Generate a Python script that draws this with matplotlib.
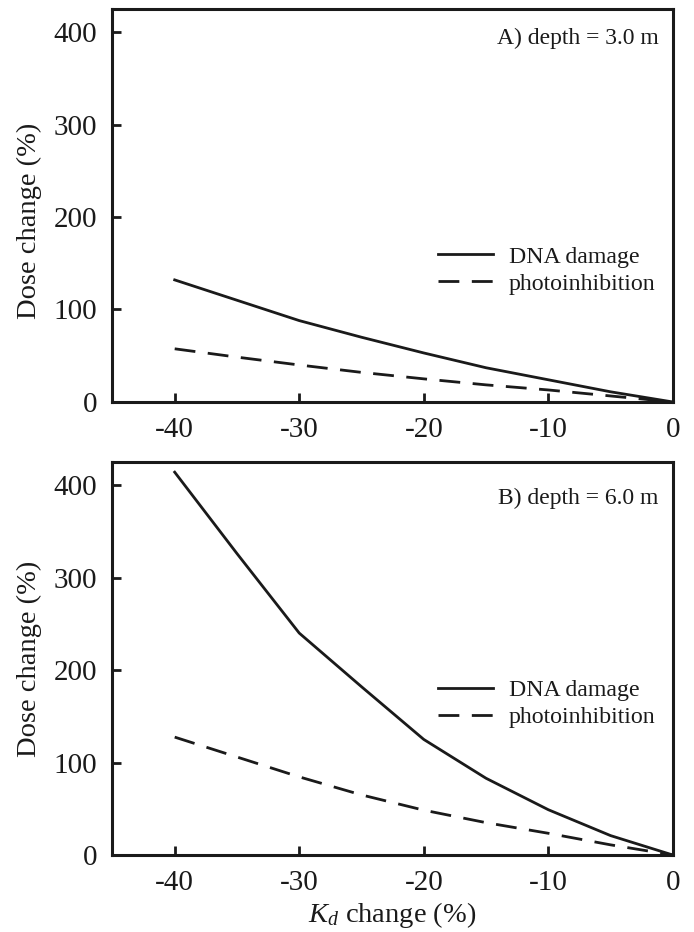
import matplotlib
matplotlib.use("Agg")
import matplotlib.pyplot as plt

plt.rcParams['font.family'] = ['Liberation Serif', 'DejaVu Serif']
plt.rcParams['mathtext.fontset'] = 'custom'
plt.rcParams['mathtext.rm'] = 'Liberation Serif'
plt.rcParams['mathtext.it'] = 'Liberation Serif:italic'
plt.rcParams['axes.unicode_minus'] = False

# Kd change (%) and dose change (%)
kd_change = [-40, -35, -30, -25, -20, -15, -10, -5, 0]
dna_3m = [132, 110, 88, 70, 53, 37, 24, 11, 0]
photo_3m = [57.5, 48.5, 40, 32, 25, 18.5, 13, 6.5, 0]
dna_6m = [414, 326, 240, 182, 125, 83, 49, 21, 0]
photo_6m = [127.5, 106, 84.5, 65, 48.5, 35, 23.5, 11, 0]

panel_titles = ["A) depth = 3.0 m", "B) depth = 6.0 m"]
series = [(dna_3m, photo_3m), (dna_6m, photo_6m)]
xticks = [-40, -30, -20, -10, 0]
yticks = [0, 100, 200, 300, 400]

fig = plt.figure(figsize=(6.94, 9.32), dpi=100)
ax_top = fig.add_axes([0.162, 0.5687, 0.8075, 0.4217])
ax_bot = fig.add_axes([0.162, 0.0826, 0.8075, 0.4217])

# (title y, legend y) in axes fraction for each panel
placements = [(0.926, 0.335), (0.908, 0.385)]

for ax, title, (dna, photo), (title_y, leg_y) in zip([ax_top, ax_bot], panel_titles,
                                                      series, placements):
    ax.plot(kd_change, dna, color='#1a1a1a', lw=2.0, label='DNA damage')
    ax.plot(kd_change, photo, color='#1a1a1a', lw=2.0, dashes=(7.5, 4.5),
            label='photoinhibition')
    ax.set_xlim(-45, 0)
    ax.set_ylim(0, 425)
    ax.set_xticks(xticks)
    ax.set_yticks(yticks)
    ax.tick_params(direction='in', length=6.5, width=2, labelsize=21, pad=11,
                   top=False, right=False, colors='#1a1a1a')
    for sp in ax.spines.values():
        sp.set_linewidth(2.2)
        sp.set_color('#1a1a1a')
    ax.set_ylabel("Dose change (%)", fontsize=20.5, color='#1a1a1a')
    ax.text(0.975, title_y, title, transform=ax.transAxes, ha='right', va='center',
            fontsize=17, color='#1a1a1a')
    leg = ax.legend(loc='center right', bbox_to_anchor=(0.995, leg_y), frameon=False,
                    fontsize=17.2, handlelength=2.3, handletextpad=0.65,
                    labelspacing=0.22, borderaxespad=0.2)
    for t in leg.get_texts():
        t.set_color('#1a1a1a')

ax_top.yaxis.set_label_coords(-0.125, 0.46)
ax_bot.yaxis.set_label_coords(-0.125, 0.5)
ax_bot.set_xlabel("$K_d$ change (%)", fontsize=20.5, color='#1a1a1a', labelpad=3)

fig.savefig("out.png", dpi=100)
